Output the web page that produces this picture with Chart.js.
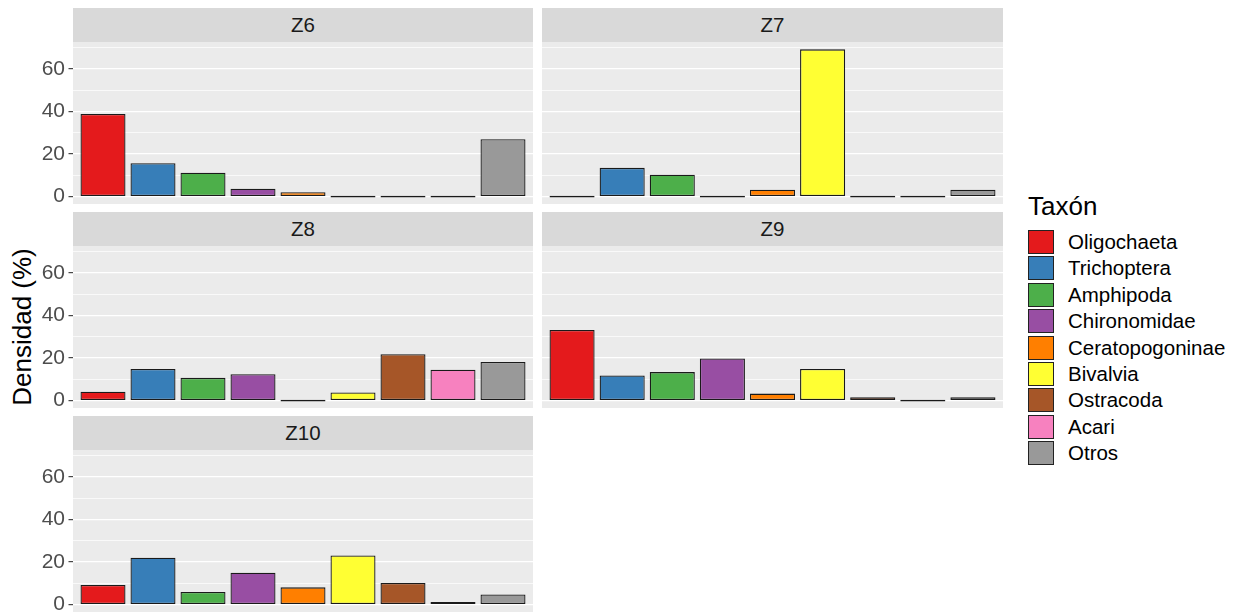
<!DOCTYPE html>
<html>
<head>
<meta charset="utf-8">
<title>Densidad por taxón y zona</title>
<script src="https://cdn.jsdelivr.net/npm/chart.js@4.4.1/dist/chart.umd.min.js"></script>
<style>
  html, body { margin: 0; padding: 0; background: #ffffff; }
  body {
    width: 1242px; height: 614px; position: relative; overflow: hidden;
    font-family: "Liberation Sans", Arial, Helvetica, sans-serif;
  }
  .strip {
    position: absolute; background: #D9D9D9; color: #1A1A1A;
    font-size: 20.5px; display: flex; align-items: center; justify-content: center;
  }
  canvas { position: absolute; }
  #ytitle {
    position: absolute; left: 22px; top: 327px;
    transform: translate(-50%, -50%) rotate(-90deg);
    font-size: 26px; color: #000; white-space: nowrap; line-height: 1;
  }
  #legend { position: absolute; left: 1028px; top: 191px; }
  #legend .ltitle { font-size: 26px; line-height: 30px; color: #000; margin-bottom: 9px; }
  #legend .item { position: relative; height: 26.4px; }
  #legend .key {
    position: absolute; left: 0; top: 0; width: 24px; height: 22px;
    border: 1.3px solid #222;
  }
  #legend .lab {
    position: absolute; left: 40px; top: 0; height: 24.6px; line-height: 24.6px;
    font-size: 20.5px; color: #000; white-space: nowrap;
  }
</style>
</head>
<body>
<div id="ytitle">Densidad (%)</div>
<div id="legend"><div class="ltitle">Taxón</div></div>

<script>
// Taxa (fill order) and their Set1 colours
const taxa = ['Oligochaeta', 'Trichoptera', 'Amphipoda', 'Chironomidae',
              'Ceratopogoninae', 'Bivalvia', 'Ostracoda', 'Acari', 'Otros'];
const palette = ['#E41A1C', '#377EB8', '#4DAF4A', '#984EA3',
                 '#FF7F00', '#FFFF33', '#A65628', '#F781BF', '#999999'];

// Zones (facets) and relative density (%) of each taxon per zone
const zones = ['Z6', 'Z7', 'Z8', 'Z9', 'Z10'];
const z6  = [38.8, 15.7, 11.2,  3.7, 2.1,  0.0,  0.0,  0.0, 26.9];
const z7  = [ 0.0, 13.5, 10.3,  0.0, 3.2, 69.1,  0.0,  0.0,  3.2];
const z8  = [ 4.2, 14.9, 10.7, 12.4, 0.0,  3.8, 21.8, 14.5, 18.1];
const z9  = [33.2, 11.8, 13.4, 19.8, 3.3, 14.9,  1.6,  0.0,  1.6];
const z10 = [ 9.2, 22.0,  5.9, 15.0, 8.1, 23.1, 10.2,  1.2,  4.8];
const zoneValues = [z6, z7, z8, z9, z10];

// Labelled y ticks (minor grid lines sit halfway between them)
const yTicks = [0, 20, 40, 60];

// Shared y range with 5% expansion on both sides
const allMax = Math.max(...zoneValues.flat());
const yMin = -0.05 * allMax;
const yMax = allMax * 1.05;

// Facet grid geometry
const facet = {
  colLeft: [73, 542], colWidth: [460, 461],
  rowTop: [8, 212, 416], stripH: 34, panelH: 162
};

const FONT = '"Liberation Sans", Arial, Helvetica, sans-serif';

// Grey panel background behind the grid and bars
const panelBg = {
  id: 'panelBg',
  beforeDraw(chart) {
    const { ctx, chartArea: a } = chart;
    ctx.save();
    ctx.fillStyle = '#EBEBEB';
    ctx.fillRect(a.left, a.top, a.right - a.left, a.bottom - a.top);
    ctx.restore();
  }
};

function buildPanel(idx) {
  const col = idx % 2, row = Math.floor(idx / 2);
  const panelLeft = facet.colLeft[col];
  const panelWidth = facet.colWidth[col];
  const stripTop = facet.rowTop[row];
  const panelTop = stripTop + facet.stripH;

  const strip = document.createElement('div');
  strip.className = 'strip';
  strip.textContent = zones[idx];
  Object.assign(strip.style, {
    left: panelLeft + 'px', top: stripTop + 'px',
    width: panelWidth + 'px', height: facet.stripH + 'px'
  });
  document.body.appendChild(strip);

  const canvasLeft = col === 0 ? 0 : panelLeft;
  const axisW = panelLeft - canvasLeft;
  const cv = document.createElement('canvas');
  cv.width = panelLeft + panelWidth - canvasLeft;
  cv.height = facet.panelH;
  Object.assign(cv.style, {
    left: canvasLeft + 'px', top: panelTop + 'px',
    width: cv.width + 'px', height: cv.height + 'px'
  });
  document.body.appendChild(cv);

  const showAxis = col === 0;
  const isMajor = v => yTicks.includes(v);

  new Chart(cv, {
    type: 'bar',
    data: {
      datasets: [{
        data: zoneValues[idx].map((v, i) => ({ x: i + 1, y: v })),
        backgroundColor: palette,
        borderColor: '#1A1A1A',
        borderWidth: 1.3,
        borderSkipped: false,
        minBarLength: 1.8,
        barPercentage: 0.9,
        categoryPercentage: 1.0
      }]
    },
    options: {
      responsive: false,
      animation: false,
      devicePixelRatio: 1,
      layout: { padding: 0 },
      plugins: { legend: { display: false }, tooltip: { enabled: false } },
      scales: {
        x: {
          type: 'linear', min: 0.4, max: 9.6, display: false, offset: false,
          grid: { offset: false },
          ticks: { stepSize: 1, includeBounds: false }
        },
        y: {
          min: yMin, max: yMax,
          border: { display: false },
          ticks: {
            display: showAxis, stepSize: 10, includeBounds: false, autoSkip: false,
            padding: 3.5, color: '#4D4D4D', font: { size: 21, family: FONT },
            callback: v => (isMajor(v) ? String(v) : '')
          },
          grid: {
            color: '#FFFFFF',
            lineWidth: c => (isMajor(c.tick.value) ? 1.3 : 0.7),
            drawTicks: showAxis, tickLength: 4.5, tickWidth: 1.1,
            tickColor: c => (isMajor(c.tick.value) ? '#333333' : 'rgba(0,0,0,0)')
          },
          afterFit: s => { s.width = axisW; s.paddingTop = 0; s.paddingBottom = 0; }
        }
      }
    },
    plugins: [panelBg]
  });
}

zones.forEach((_, i) => buildPanel(i));

// Legend
const legend = document.getElementById('legend');
taxa.forEach((name, i) => {
  const item = document.createElement('div');
  item.className = 'item';
  const key = document.createElement('div');
  key.className = 'key';
  key.style.background = palette[i];
  const lab = document.createElement('div');
  lab.className = 'lab';
  lab.textContent = name;
  item.appendChild(key);
  item.appendChild(lab);
  legend.appendChild(item);
});
</script>
</body>
</html>
